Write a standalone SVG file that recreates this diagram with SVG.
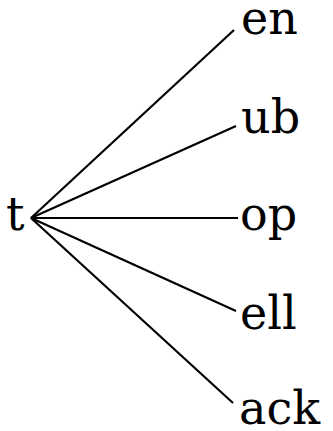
<svg xmlns="http://www.w3.org/2000/svg" width="333" height="431" viewBox="0 0 333 431">
<style>
text { font-family: "DejaVu Serif", "Liberation Serif", serif; font-size: 46px; fill: #000; }
.c line { stroke: #000; stroke-width: 2.2; }
</style>
<rect width="333" height="431" fill="#fff"/>
<g class="c" id="connectors">
<line x1="31" y1="218" x2="234" y2="30"/>
<line x1="31" y1="218" x2="236" y2="126"/>
<line x1="31" y1="218" x2="238" y2="218"/>
<line x1="31" y1="218" x2="236" y2="311"/>
<line x1="31" y1="218" x2="233" y2="403"/>
</g>
<g id="root"><text x="6" y="230">t</text></g>
<g id="n-en"><text x="241" y="34">en</text></g>
<g id="n-ub"><text x="241" y="133">ub</text></g>
<g id="n-op"><text x="240" y="230">op</text></g>
<g id="n-ell"><text x="240" y="329">ell</text></g>
<g id="n-ack"><text x="239" y="424">ack</text></g>
</svg>
